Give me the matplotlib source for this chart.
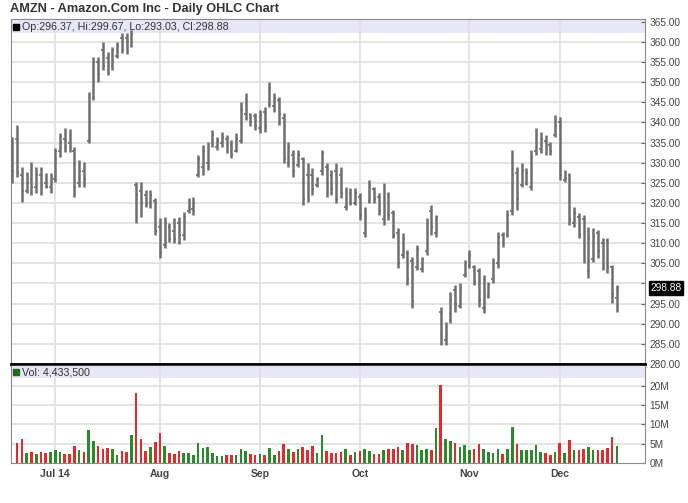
import numpy as np
import pandas as pd
import matplotlib
matplotlib.use("Agg")
import matplotlib.pyplot as plt
import matplotlib.transforms as mtransforms

plt.rcParams['font.family'] = ['Liberation Sans', 'DejaVu Sans']

# trading days shown on the chart (NYSE holidays removed)
holidays = ['2014-07-04', '2014-09-01', '2014-11-27']
dates = pd.bdate_range('2014-06-18', '2014-12-17')
dates = dates[~dates.isin(pd.to_datetime(holidays))]

opens = [335, 336, 327, 323, 326, 324, 327, 325, 324, 326,
         333, 336, 335, 333, 325, 328, 335.5, 346, 355, 358,
         356, 354, 356.5, 361, 361, 359, 324.5, 323, 322, 320,
         320.5, 314, 309.5, 314, 313, 315, 312, 318, 318.5, 327,
         329, 330, 335, 334, 335, 336, 334.5, 333, 335.5, 342,
         342, 341.5, 338.5, 342.5, 344.5, 344, 345.5, 341, 330, 332,
         329.5, 331, 327, 327, 324.5, 328, 329, 327, 328, 327,
         319, 322.5, 320, 321.5, 312.5, 320.5, 323.5, 321.5, 316, 322,
         317.5, 312.5, 307, 307.5, 305.5, 304, 303.5, 308, 318, 312.5,
         293, 286, 291, 298.5, 294.5, 302, 304.5, 304, 303, 294,
         297, 301, 305, 312, 312, 318, 327.5, 324.5, 325, 324,
         333, 333.5, 335.5, 334.5, 337, 340, 325.8, 327, 315, 316.5,
         316, 303, 306, 312.5, 310, 310.5, 304, 296.37]
highs = [336.4, 339.4, 329, 327.7, 330.2, 329, 329, 327.4, 327.4, 333.7,
         337.4, 338.6, 338.4, 333.9, 330.7, 330.2, 347.6, 356.3, 356.3, 360,
         357.5, 358.8, 360, 362.2, 362.2, 363, 325.3, 325.3, 323.2, 323.2,
         321.2, 316.2, 316.6, 315, 316.2, 316.6, 317.8, 321.2, 321.6, 331.9,
         334.4, 335.2, 338.1, 336.5, 337.6, 336.9, 335.7, 337.3, 345.2, 347.3,
         342.3, 342.3, 343.1, 343.9, 350.1, 347.3, 346.4, 342.3, 335.2, 333.2,
         333.2, 331.5, 329.9, 328.6, 326.5, 333.2, 329.9, 328.2, 329.9, 329,
         324, 323.6, 323.6, 322.4, 319.1, 325.7, 324, 322.4, 324.9, 322.8,
         318.3, 313.7, 312.5, 308.3, 306.7, 309.6, 306.7, 316.2, 319.5, 317,
         294.2, 290.5, 298, 299.6, 300, 305.8, 308.3, 304.6, 303.8, 302.1,
         300.4, 306.3, 312.9, 312.9, 318.3, 333.2, 329, 329.9, 328.6, 333.2,
         338.6, 337.7, 336.9, 335.2, 341.9, 341.4, 328.2, 327.4, 319.1, 317.4,
         317, 314.1, 313.7, 313.3, 311.2, 311.2, 304.6, 299.67]
lows = [325, 326.5, 320.2, 322.5, 322, 322.5, 322, 323.7, 322.5, 325.2,
        331.4, 332.7, 332.7, 321.5, 324, 324, 334.9, 345.6, 350, 353,
        351.8, 353, 356, 357.3, 357, 358.8, 315, 316.6, 319.1, 318.7,
        312, 306.3, 308.7, 310.4, 310, 309.7, 310.8, 317.4, 317, 326.5,
        327, 328.2, 334, 333.2, 334, 332.3, 331.1, 332.7, 334.8, 340.6,
        339.2, 338.1, 337.3, 337.7, 343.9, 342.7, 339.4, 329.9, 329, 326.5,
        329, 319.5, 320.3, 322, 324, 327, 321.6, 322, 319.9, 321.2,
        318.3, 319.5, 319.5, 315.8, 311.6, 319.9, 319.9, 317, 314.5, 315.8,
        311.2, 303.8, 306.3, 299.6, 293.8, 303.4, 302.9, 307.1, 312, 311.6,
        284.7, 284.7, 290.1, 293, 293.8, 301.7, 303.8, 299.6, 294.2, 292.6,
        296.3, 300, 303.8, 309.1, 311.6, 317, 318.3, 324, 324.5, 323.2,
        331.9, 332.3, 331.9, 331.9, 336.5, 325.7, 325.3, 314.5, 314.1, 311.2,
        305, 301.3, 305.4, 306.3, 303.4, 302.5, 295.1, 293.03]
closes = [328, 327.5, 323, 325, 324, 327, 324.5, 324, 325.5, 333,
          335, 334, 333.5, 324, 328, 326, 346, 355, 352, 354,
          353, 358, 359, 358, 359, 362, 322, 320, 320, 322,
          313, 307.5, 315, 311, 311, 312, 316.5, 320.5, 320, 331,
          333, 334, 337, 335.5, 336.5, 333, 332, 336, 343, 345,
          340, 339, 341.5, 339, 348.5, 346, 342, 331, 334, 328,
          332, 321, 322, 323.5, 326, 332.5, 323, 323.5, 321, 322.5,
          323, 320, 322.5, 317, 318.5, 324.5, 321, 318, 323, 317,
          312, 305, 311, 301, 295.5, 308.5, 306, 315, 314, 316.5,
          287, 289.5, 296, 295, 299, 305, 307, 300.5, 296, 300,
          299.5, 305, 311.5, 310, 317, 327, 321, 328, 327.5, 331.5,
          337, 336, 333, 333, 339, 327, 327.5, 316, 317.5, 312,
          307, 311, 311.5, 308, 305, 304, 297.5, 298.88]
# volume in millions of shares (first day's bar is cut off by the axis)
volume = [0, 5.26, 6.12, 2.59, 2.84, 2.33, 2.84, 2.67, 2.84, 3.28,
          2.84, 2.24, 2.41, 4.31, 3.45, 2.76, 8.45, 5.6, 4.4, 3.71,
          3.88, 3.53, 2.16, 3.02, 2.84, 7.15, 18.1, 6.12, 3.02, 4.05,
          5.43, 7.76, 4.4, 2.67, 2.24, 3.02, 2.67, 2.59, 1.98, 5.17,
          3.88, 4.05, 2.5, 1.81, 1.81, 1.98, 2.16, 2.16, 3.71, 3.02,
          2.33, 2.16, 2.33, 1.98, 3.97, 1.98, 3.02, 4.83, 3.71, 2.84,
          3.53, 4.05, 3.45, 4.31, 2.59, 7.15, 3.02, 2.5, 2.67, 2.84,
          3.71, 1.98, 2.84, 3.02, 3.53, 3.02, 2.24, 2.24, 3.45, 3.53,
          3.71, 4.22, 3.45, 5.26, 5.0, 4.57, 3.45, 3.62, 3.28, 9.14,
          20.1, 6.12, 5.6, 5.09, 4.14, 4.57, 3.28, 3.71, 4.91, 3.71,
          2.84, 2.67, 3.71, 2.24, 3.71, 9.31, 4.83, 3.45, 3.45, 3.45,
          4.57, 2.84, 2.59, 2.16, 2.84, 5.17, 2.67, 5.86, 3.36, 3.45,
          3.71, 4.05, 3.36, 3.28, 3.45, 3.88, 6.64, 4.4335]

price_ticks = list(range(280, 366, 5))
vol_ticks = [0, 5, 10, 15, 20]

idx = np.arange(len(dates))
opens = np.array(opens); highs = np.array(highs)
lows = np.array(lows); closes = np.array(closes)

month_pos = [i for i in range(1, len(dates)) if dates[i].month != dates[i - 1].month]
month_lab = [dates[i].strftime('%b') for i in month_pos]
month_lab[0] = dates[month_pos[0]].strftime('%b %y')

W, H = 688, 503
fig = plt.figure(figsize=(W / 100, H / 100), dpi=100)
left, right = 11 / W, 645 / W
ax = fig.add_axes([left, 1 - 364 / H, right - left, (364 - 19) / H])
axv = fig.add_axes([left, 1 - 463 / H, right - left, (463 - 364) / H], sharex=ax)

bar_col = '#6e6e6e'
grid_col = '#e0e0e0'
txt_col = '#444444'

# price panel
ax.set_ylim(280, 365.7)
ax.set_xlim(-0.3, 132.9)
ax.axhspan(362.3, 366, color='#e7e7f8', zorder=0, lw=0)
for p in price_ticks[1:-1]:
    ax.axhline(p, color=grid_col, lw=1.3, zorder=1)
for m in month_pos:
    ax.axvline(m, color=grid_col, lw=1.3, zorder=1)
ax.vlines(idx, lows, highs, color=bar_col, lw=1.8, zorder=3)
ax.hlines(opens, idx - 0.38, idx, color=bar_col, lw=1.2, zorder=3)
ax.hlines(closes, idx, idx + 0.38, color=bar_col, lw=1.2, zorder=3)

ax.yaxis.tick_right()
ax.set_yticks(price_ticks)
ax.set_yticklabels(['' if p == 300 else f'{p:.2f}' for p in price_ticks])
ax.tick_params(axis='y', direction='in', length=3, labelsize=7.3, labelcolor=txt_col,
               color='#666666', pad=3)
ax.tick_params(axis='x', length=0, labelbottom=False)

ax.plot([0.008], [0.978], marker='s', ms=4.3, color='black', transform=ax.transAxes,
        clip_on=False, zorder=5)
ax.text(0.017, 0.978, f'Op:{opens[-1]:.2f}, Hi:{highs[-1]:.2f}, Lo:{lows[-1]:.2f}, Cl:{closes[-1]:.2f}',
        transform=ax.transAxes, fontsize=7.7, color='#333333', va='center', ha='left', zorder=5)

trans = mtransforms.blended_transform_factory(ax.transAxes, ax.transData)
ax.text(1.008, closes[-1], f'{closes[-1]:.2f}', transform=trans, fontsize=7.3, color='white',
        va='center', ha='left',
        bbox=dict(boxstyle='square,pad=0.15', fc='black', ec='black'))

for s in ['top', 'left', 'right']:
    ax.spines[s].set_color('#8a8a8a')
ax.spines['bottom'].set_color('black')
ax.spines['bottom'].set_linewidth(1.8)

# volume panel
up = closes >= opens
vcol = np.where(up, '#2a8a2a', '#e3292b')
axv.set_ylim(0, 25.6)
axv.axhspan(22.0, 26, color='#e7e7f8', zorder=0, lw=0)
for v in vol_ticks[1:]:
    axv.axhline(v, color=grid_col, lw=1.3, zorder=1)
for m in month_pos:
    axv.axvline(m, color=grid_col, lw=1.3, zorder=1)
axv.bar(idx, volume, width=0.55, color=vcol, zorder=3)

axv.yaxis.tick_right()
axv.set_yticks(vol_ticks)
axv.set_yticklabels([f'{v}M' for v in vol_ticks])
axv.tick_params(axis='y', direction='in', length=3, labelsize=7.3, labelcolor=txt_col,
                color='#666666', pad=3)
axv.set_xticks(month_pos)
axv.set_xticklabels(month_lab)
axv.tick_params(axis='x', length=0, labelsize=7.5, labelcolor=txt_col, pad=4)
for lab in axv.get_xticklabels():
    lab.set_fontweight('bold')

axv.plot([0.008], [0.915], marker='s', ms=4.3, color='#1f6e1f', transform=axv.transAxes,
         clip_on=False, zorder=5)
axv.text(0.017, 0.915, f'Vol: {int(round(volume[-1] * 1e6)):,}', transform=axv.transAxes,
         fontsize=7.7, color='#333333', va='center', ha='left', zorder=5)

for s in ['bottom', 'left', 'right']:
    axv.spines[s].set_color('#8a8a8a')
axv.spines['top'].set_color('black')
axv.spines['top'].set_linewidth(1.8)

fig.text(10 / W, 1 - 9 / H, 'AMZN - Amazon.Com Inc - Daily OHLC Chart', fontsize=9.2,
         fontweight='bold', color='#333333', va='center', ha='left')

plt.savefig('out.png', dpi=100)
